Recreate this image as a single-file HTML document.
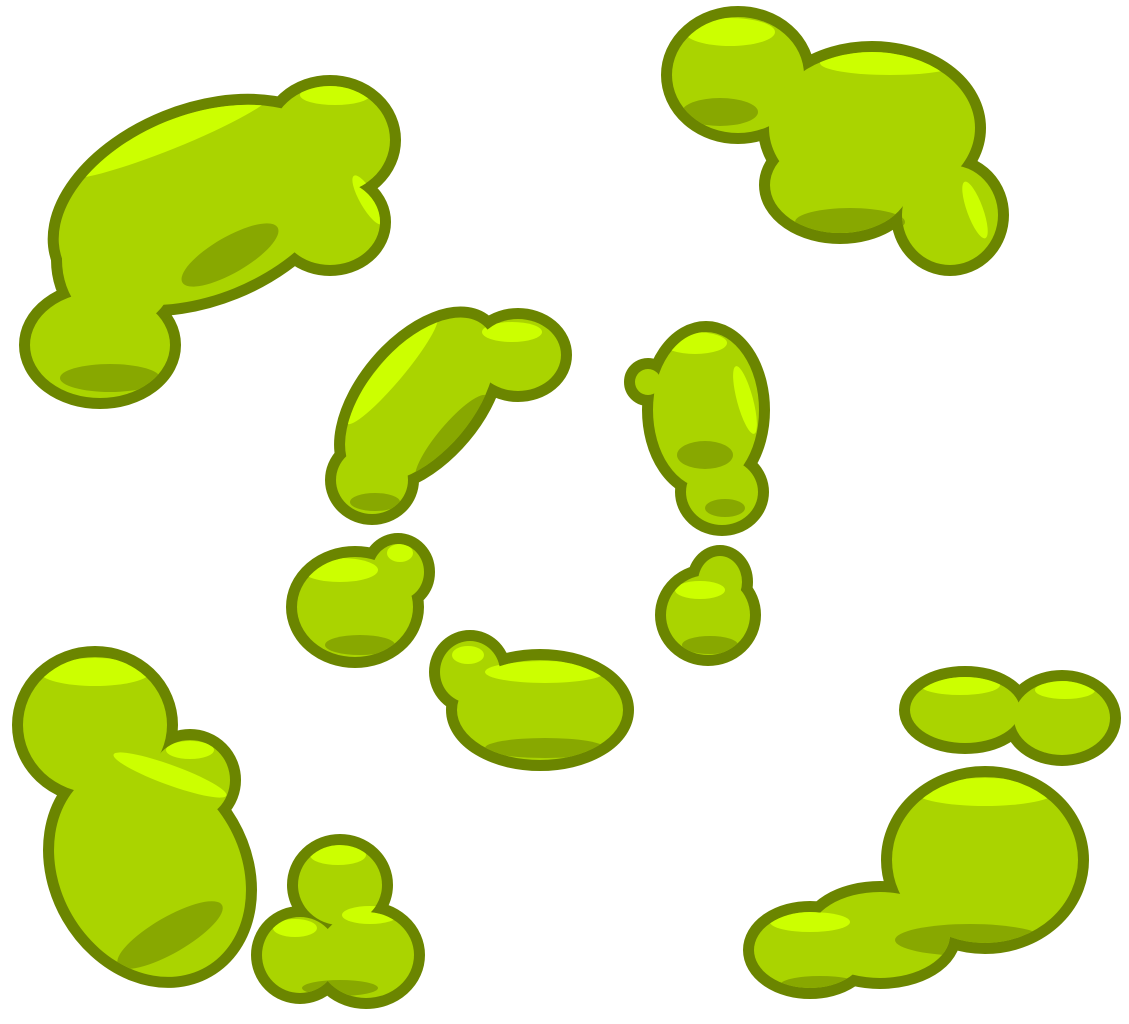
<!DOCTYPE html>
<html><head><meta charset="utf-8"><style>
html,body{margin:0;padding:0;background:#fff;width:1129px;height:1024px;overflow:hidden}
svg{display:block}
</style></head><body>
<svg id="art" width="1129" height="1024" viewBox="0 0 1129 1024" xmlns="http://www.w3.org/2000/svg"><defs id="defs"></defs></svg>
<script>
const svg=document.getElementById('art');
const defs=document.getElementById('defs');
const NS='http://www.w3.org/2000/svg';
const blobs=[
 ['blob-top-left',[[200,205,148,90,-22],[330,140,60,54,0],[100,345,70,53,0],[330,222,50,43,0],[120,260,58,68,0]],
   [[170,135,110,14,-22],[335,95,35,10,0],[368,200,8,28,-30]],[[230,255,55,18,-30],[110,378,50,14,0]]],
 ['blob-top-right',[[738,75,66,58,0],[872,128,103,76,0],[840,185,70,48,0],[950,215,48,50,0]],
   [[730,32,45,14,0],[890,63,70,12,0],[975,210,8,30,-20]],[[720,112,38,14,0],[850,222,55,14,0]]],
 ['blob-mid-left',[[420,400,98,53,-50],[518,355,43,36,0],[372,480,36,34,0]],
   [[392,370,70,12,-50],[512,332,30,10,0]],[[452,438,55,14,-50],[375,502,25,9,0]]],
 ['blob-mid-right',[[706,410,53,78,0],[722,492,36,33,0],[648,382,13,13,0]],
   [[695,343,32,11,0],[745,400,8,35,-15]],[[705,455,28,14,0],[725,508,20,9,0]]],
 ['blob-small-left',[[355,607,58,50,0],[398,572,26,28,0]],
   [[340,570,38,12,0],[400,553,13,9,0]],[[360,645,35,10,0]]],
 ['blob-small-right',[[708,615,42,40,0],[720,582,22,26,0]],
   [[700,590,25,9,0]],[[710,645,28,9,0]]],
 ['blob-center-bottom',[[540,710,83,50,0],[470,672,30,31,0]],
   [[545,672,60,11,0],[468,655,16,9,0]],[[545,748,60,10,0]]],
 ['blob-bottom-left',[[95,725,72,68,0],[150,870,90,112,-30],[190,780,40,40,0]],
   [[95,672,55,14,0],[190,750,24,9,0],[170,775,60,10,20]],[[170,935,60,18,-30]]],
 ['blob-bottom-center',[[340,885,42,40,0],[300,955,38,38,0],[366,955,48,43,0]],
   [[338,855,28,10,0],[295,928,22,9,0],[370,915,28,9,0]],[[340,988,38,8,0]]],
 ['blob-bottom-right',[[965,710,55,33,0],[1062,718,48,37,0],[985,860,93,83,0],[810,950,56,38,0],[880,935,70,43,0]],
   [[960,685,40,10,0],[1065,690,30,9,0],[985,792,70,14,0],[810,922,40,10,0]],[[970,940,75,16,0],[820,985,40,9,0]]]
];
function ell(g,e,fill,stroke,sw){
  const el=document.createElementNS(NS,'ellipse');
  el.setAttribute('cx',e[0]);el.setAttribute('cy',e[1]);
  el.setAttribute('rx',e[2]);el.setAttribute('ry',e[3]);
  el.setAttribute('transform','rotate('+e[4]+' '+e[0]+' '+e[1]+')');
  el.setAttribute('fill',fill);
  if(stroke){el.setAttribute('stroke',stroke);el.setAttribute('stroke-width',sw);}
  g.appendChild(el);return el;
}
blobs.forEach((b,i)=>{
  const cp=document.createElementNS(NS,'clipPath');
  cp.setAttribute('id','cp'+i);
  b[1].forEach(e=>ell(cp,e,'#000'));
  defs.appendChild(cp);
  const g=document.createElementNS(NS,'g');
  
  
  b[1].forEach(e=>ell(g,e,'#6b8500','#6b8500',22));
  b[1].forEach(e=>ell(g,e,'#aad400'));
  const inner=document.createElementNS(NS,'g');
  inner.setAttribute('clip-path','url(#cp'+i+')');
  b[3].forEach(e=>ell(inner,e,'#88a800'));
  b[2].forEach(e=>ell(inner,e,'#ccff00'));
  g.appendChild(inner);
  svg.appendChild(g);
});
</script>
</body></html>
